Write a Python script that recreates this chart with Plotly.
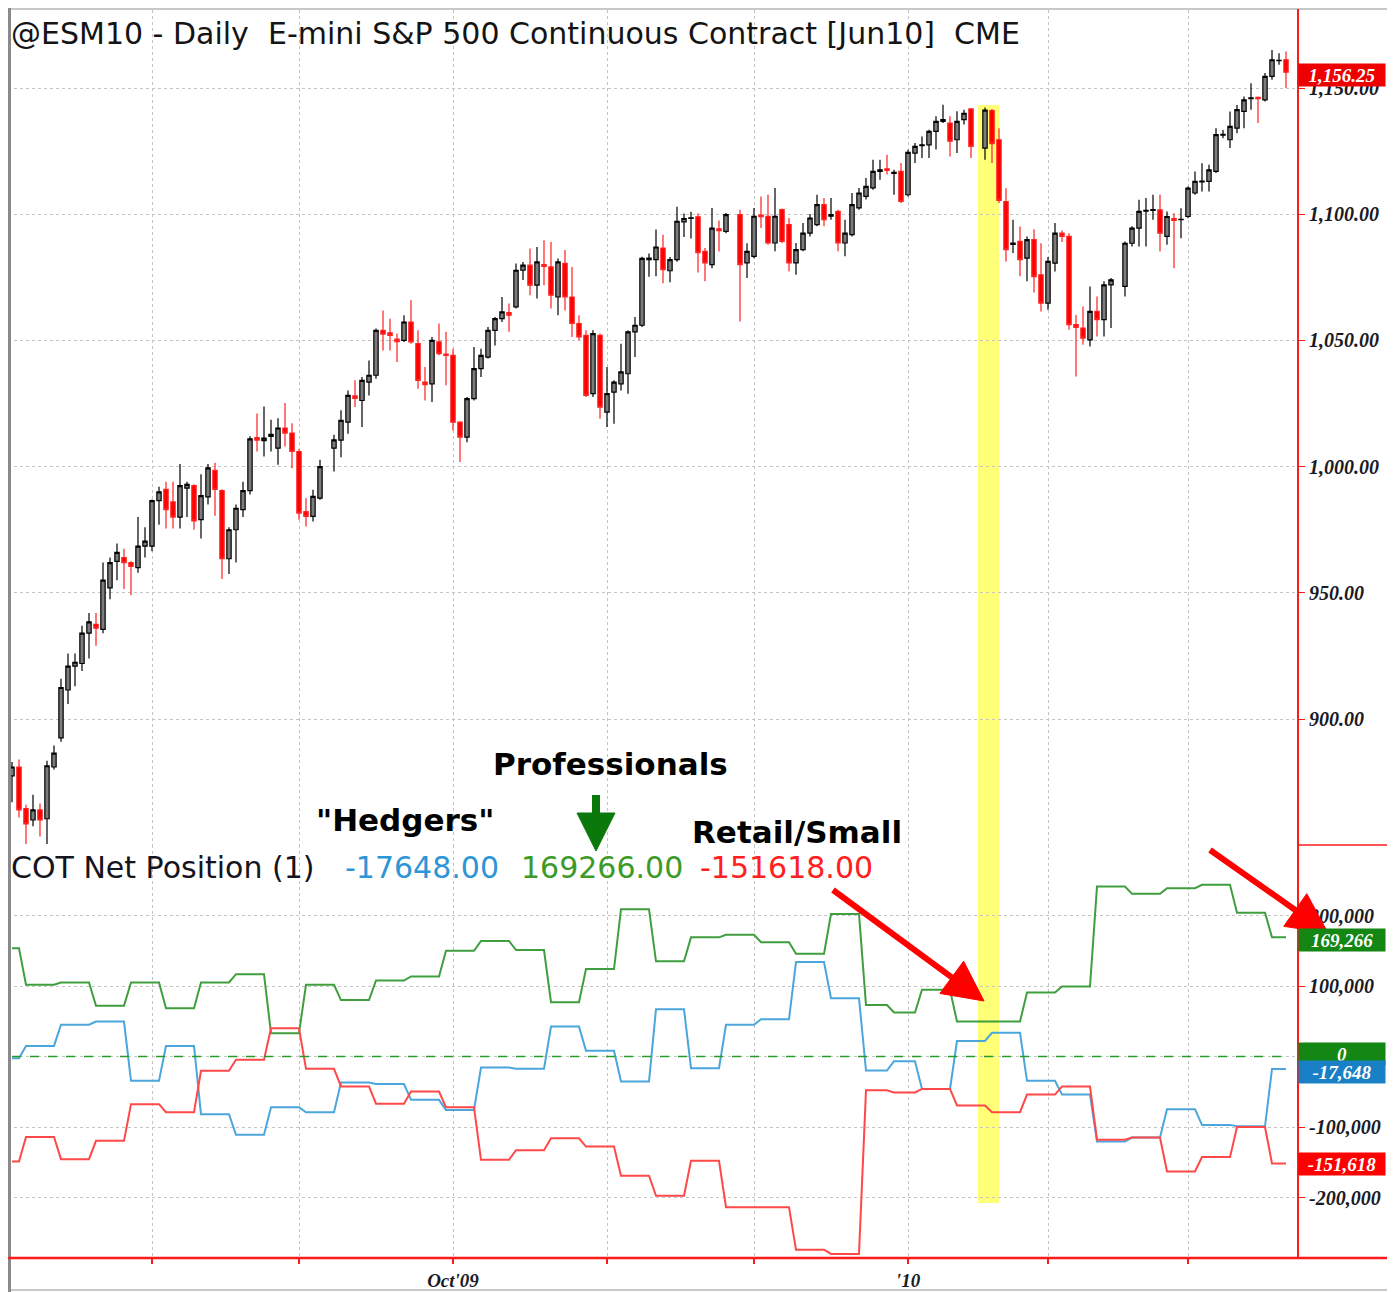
import plotly.graph_objects as go
from plotly.subplots import make_subplots
import pandas as pd

# ---------------- data ----------------
closed_days = ["2009-12-25", "2010-01-01"]          # exchange fully closed (no slot)
no_bar_days = ["2009-09-07", "2009-11-26", "2010-01-18", "2010-02-15"]  # slot, but no candle
dates = [d.strftime("%Y-%m-%d") for d in pd.bdate_range("2009-07-06", "2010-03-19")
         if d.strftime("%Y-%m-%d") not in closed_days]

N = None
opens = [
    877.5, 881, 864.5, 860, 864, 860.5, 881, 892.5, 911.5, 921, 922, 934, 937.5, 935.5, 952, 962.5, 964, 962, 960, 968.5,
    968.5, 986.5, 991, 986, 980, 991.5, 992.5, 979, 988, 998.5, 990.5, 963.5, 975, 983, 990.5, 1011.5, 1010.3, 1012, 1007.3, 1015.3, 1013.3,
    1006, 982.2, 980.3, 987.5, N, 1007.3, 1010.5, 1017.6, 1028, 1026.2, 1033.5, 1036.2, 1054, 1053, 1050.5, 1050, 1057.3, 1048.7, 1033.5, 1032.8, 1049.4, 1044.6,
    1044.1, 1017.6, 1011.7, 1026.9, 1038.8, 1043.4, 1054, 1058.6, 1061, 1063.3, 1077.8, 1079.8, 1071.9, 1080, 1079.1, 1067.2, 1080.5, 1067.2, 1056.7, 1052, 1028.9, 1052,
    1021.6, 1029.5, 1032.8, 1036.8, 1053.4, 1056, 1082, 1082, 1086.6, 1077.6, 1082, 1097, 1098.3, 1099, 1085.3, 1080, 1094.2, 1093.2, N, 1099.8, 1080.7,
    1083.3, 1099.6, 1099.2, 1088.6, 1101.8, 1095.9, 1080.7, 1086, 1092.5, 1095.9, 1103.8, 1099.2, 1101.1, 1088.6, 1091.9, 1102.5, 1107.1, 1110.4, 1117, 1118, 1116.2, 1117,
    1107.7, 1124.2, 1127.2, 1127.5, 1132.8, 1136.8, 1136.1, 1129.5, 1137.5, 1141.7, N, 1126.2, 1141, 1129.5, 1105, 1088, 1089.2, 1082.6, 1089.9, 1076,
    1064.8, 1080.6, 1092.5, 1091.2, 1056.3, 1054.9, 1050.2, 1061.5, 1058.2, 1072, N, 1071.4, 1088.5, 1094.5, 1101.2, 1101.5, 1101.7, 1091.2, 1098.3, 1097.8,
    1099.1, 1108.4, 1112.8, 1113, 1117, 1131.3, 1129.5, 1134.1, 1140.7, 1145.8, 1146.3, 1145.3, 1154.6, 1160.8, 1161.2,
]
highs = [
    883, 884, 866, 870, 866.5, 883.5, 889.5, 916, 926, 926, 937, 942, 942, 962, 964, 969.5, 967.5, 962.5, 980, 976,
    987, 992, 994, 994, 1001, 994, 993, 997, 1001, 1001.5, 991, 976, 985, 994, 1012, 1021, 1023.8, 1018.6, 1019.2, 1025.2, 1017.2,
    1007, 987.5, 990.8, 1002.7, N, 1012.6, 1022.3, 1030.2, 1034.2, 1035.5, 1042, 1054.7, 1061.9, 1058.6, 1052.7, 1060, 1066, 1054, 1039.5, 1051.4, 1056.7, 1053.4,
    1046.7, 1018, 1027.6, 1047.4, 1046.7, 1055.3, 1059.3, 1067.2, 1064.6, 1080.5, 1081.1, 1086.4, 1087, 1089.7, 1089, 1082.5, 1085.8, 1079.1, 1060, 1054, 1054, 1052.7,
    1039.5, 1034.2, 1048.7, 1054, 1059.3, 1083.1, 1084.4, 1093.9, 1091.9, 1083, 1103, 1100.3, 1101, 1100.4, 1086.6, 1102.5, 1097.5, 1100.5, N, 1101.8, 1088.5,
    1102.5, 1107, 1107.7, 1110.4, 1102.3, 1098.5, 1088.6, 1096.5, 1100.1, 1107.7, 1106.4, 1106.4, 1101.8, 1097.8, 1108.4, 1110.4, 1114.3, 1121.6, 1121.6, 1123.6, 1117.6, 1120.3,
    1125.5, 1128.2, 1130.8, 1133.5, 1138.8, 1143.4, 1138.8, 1140.8, 1141.4, 1142, N, 1142.3, 1141.7, 1134.1, 1110.3, 1097.8, 1095.1, 1091.2, 1094, 1088.5,
    1083, 1096.5, 1093.5, 1092.5, 1060.1, 1063.4, 1071.4, 1067.4, 1073.4, 1074.7, N, 1089.2, 1095.2, 1105.7, 1106.4, 1107.7, 1107.7, 1101.1, 1100.4, 1102.4,
    1111, 1116.9, 1120.2, 1119.6, 1134.1, 1133.4, 1140.7, 1143.3, 1146.6, 1151.9, 1146.6, 1155.9, 1165.1, 1163.8, 1164.5,
]
lows = [
    867, 861, 850.5, 857.5, 853.5, 850.5, 880, 891, 906, 913, 919, 924, 929, 934, 947.5, 955, 951.5, 949, 958, 964,
    966.5, 977, 975.5, 975.5, 975.5, 980, 975, 971.5, 985, 980.5, 955.5, 957.5, 962, 980, 989, 1006, 1004, 1006, 1000.7, 1008, 999.4,
    979, 976.3, 978.3, 986.9, N, 998.1, 1003.7, 1013, 1023.6, 1015.7, 1028.2, 1034.8, 1046, 1046, 1041.4, 1049.4, 1048.7, 1030.9, 1026.2, 1025.6, 1044.1, 1032.2,
    1014.3, 1001.8, 1009.7, 1026.2, 1035.5, 1042.8, 1048, 1057.3, 1053.4, 1062.6, 1073.9, 1067.9, 1066.6, 1071.9, 1062.6, 1060, 1061.9, 1051.4, 1050, 1027.6, 1027.6, 1019,
    1015.7, 1017, 1030.2, 1028.9, 1043.4, 1055.3, 1075.2, 1075.4, 1072.6, 1073, 1081.2, 1091, 1090.4, 1076.9, 1073.4, 1078.6, 1085.2, 1092.5, N, 1057.5, 1074.7,
    1082.6, 1094.5, 1087.9, 1085.3, 1088.5, 1077.4, 1076, 1085.3, 1091.2, 1095.2, 1095.2, 1097.8, 1085.3, 1083.3, 1091.2, 1101.8, 1105.8, 1109.7, 1113.7, 1115.7, 1107.7, 1104.4,
    1107, 1120.3, 1122.3, 1122.3, 1125.6, 1136.1, 1122.9, 1124.2, 1135.5, 1122.3, N, 1121.6, 1120.3, 1104.4, 1081.3, 1084.6, 1075.4, 1073.4, 1069, 1061.5,
    1062.1, 1077.3, 1089, 1054.2, 1035.7, 1048.3, 1047.6, 1051.6, 1051.6, 1054.9, N, 1067.4, 1087.2, 1087.2, 1087.2, 1097.8, 1085.2, 1087.9, 1078.6, 1090.5,
    1098.4, 1107.7, 1109, 1109, 1116.3, 1130.1, 1126.2, 1132.1, 1134.1, 1141.4, 1136.1, 1144.7, 1153.3, 1159.2, 1150,
]
closes = [
    881, 864, 858.5, 864, 860, 881.5, 886.5, 912.5, 921, 922.5, 934, 938.5, 936, 955, 962, 966, 962, 960.5, 968.5, 970.5,
    986.5, 990, 983, 980, 992.5, 993, 978.5, 988.5, 999.5, 991, 963.5, 975, 983.5, 990.5, 1011, 1010.5, 1011.3, 1012.8, 1015.3, 1013.3, 1006,
    981.6, 980.3, 988.2, 1000, N, 1010.6, 1018.3, 1028.2, 1027, 1034.2, 1036.2, 1054, 1052.5, 1052, 1049.5, 1057.3, 1049.4, 1034.2, 1032.5, 1050, 1044.8, 1044.1,
    1017.6, 1011.7, 1026.9, 1038.8, 1044.1, 1054, 1058.6, 1061.3, 1060, 1077.8, 1079.8, 1071.9, 1081.1, 1079.3, 1067.9, 1081.1, 1067.2, 1056.7, 1051.4, 1028.2, 1052.7, 1023.6,
    1028.9, 1033.5, 1037.5, 1053.4, 1056, 1082.5, 1082.6, 1087, 1078, 1082, 1097.2, 1098.3, 1098.6, 1084.8, 1080.7, 1094.5, 1093.5, 1099.8, N, 1080, 1085.3,
    1099.2, 1099, 1088.6, 1099.2, 1089.2, 1080.7, 1086, 1092.5, 1098.5, 1103.8, 1097.8, 1099.8, 1088.6, 1092.5, 1103.8, 1108.4, 1111, 1117, 1117.6, 1117.4, 1116.6, 1105.1,
    1124.5, 1126.9, 1127.5, 1132.8, 1136.8, 1137.5, 1128.9, 1136.8, 1140, 1126.9, N, 1141.2, 1128, 1105.5, 1086, 1088.6, 1082, 1089.9, 1075.3, 1064.8,
    1081.3, 1092.5, 1091.2, 1056.2, 1055.2, 1050.9, 1061.5, 1058.2, 1072, 1074, N, 1088.5, 1094.5, 1101.1, 1101.5, 1101.8, 1092.5, 1099.1, 1097.5, 1098,
    1110.3, 1113, 1113.1, 1117.6, 1131.5, 1131.6, 1134.8, 1141.4, 1145.3, 1146.1, 1145.8, 1154.6, 1161.2, 1161, 1156.25,
]

# weekly Commitments of Traders net positions (as-of Tuesday)
cot_weeks = ["2009-06-30", "2009-07-07", "2009-07-14", "2009-07-21", "2009-07-28", "2009-08-04", "2009-08-11",
             "2009-08-18", "2009-08-25", "2009-09-01", "2009-09-08", "2009-09-15", "2009-09-22", "2009-09-29",
             "2009-10-06", "2009-10-13", "2009-10-20", "2009-10-27", "2009-11-03", "2009-11-10", "2009-11-17",
             "2009-11-24", "2009-12-01", "2009-12-08", "2009-12-15", "2009-12-22", "2009-12-29", "2010-01-05",
             "2010-01-12", "2010-01-19", "2010-01-26", "2010-02-02", "2010-02-09", "2010-02-16", "2010-02-23",
             "2010-03-02", "2010-03-09", "2010-03-16"]
hedgers = [-2400, 15000, 45000, 49600, -34500, 15000, -81800, -111000, -72000, -79000, -37000, -39000, -61500,
           -75700, -15600, -17500, 42500, 8000, -35500, 67000, -16500, 45000, 53000, 134000, 82700, -20000, -6600,
           -46000, 22000, 33600, -34500, -54000, -120600, -115000, -74700, -97000, -99000, -17648]
professionals = [153700, 101700, 105000, 72000, 105000, 68600, 105000, 116800, 33000, 101700, 80000, 107800, 113500,
                 150000, 164000, 151000, 77000, 124000, 209000, 135000, 169000, 172600, 162000, 145600, 202000, 73000,
                 62400, 94600, 49600, 49600, 90800, 99300, 241000, 230700, 238800, 243500, 204000, 169266]
retail = [-149000, -114000, -145600, -119600, -67600, -79000, -20300, -4700, 40000, -17500, -42500, -67000, -49600,
          -72000, -146600, -133000, -116000, -127700, -169000, -197600, -148000, -213700, -213700, -274000, -280000,
          -48000, -51000, -46000, -69500, -79000, -54000, -42500, -118000, -115000, -163000, -142700, -100000, -151618]

price_ticks = [900, 950, 1000, 1050, 1100, 1150]
cot_ticks = [-200000, -100000, 0, 100000, 200000]
month_labels = {"2009-10": "Oct'09", "2010-01": "'10"}
highlight = ("2010-01-18", "2010-01-21")

assert len(dates) == len(opens) == len(highs) == len(lows) == len(closes)

# ---------------- geometry (page pixels; the page body has an 8px margin) ----------------
PAGE_W, PAGE_H, BODY = 1395, 1292, 8
W, H = PAGE_W - BODY, PAGE_H - BODY
L_PX, R_PX, T_PX, B_PX = 8, 1298, 10, 1258
SPLIT_PX = 845
def px(x): return (x - L_PX) / (R_PX - L_PX)
def py(y): return (B_PX - y) / (B_PX - T_PX)
split = py(SPLIT_PX)

# daily step series from weekly COT: value of last report dated before the bar
def daily(values):
    out = []
    for d in dates:
        v = None
        for wk, val in zip(cot_weeks, values):
            if wk < d:
                v = val
        out.append(v)
    return out

bar_idx = [i for i, d in enumerate(dates) if closes[i] is not None]
month_starts = [d for i, d in enumerate(dates) if i > 0 and d[:7] != dates[i - 1][:7]]

SERIF = "Liberation Serif"
SANS = "DejaVu Sans"
RED = "#ff1a1a"
GREEN_LINE = "#3f9f3f"
BLUE_LINE = "#4aa6dc"
RED_LINE = "#ff4848"

fig = make_subplots(rows=2, cols=1, shared_xaxes=True, vertical_spacing=0)

fig.add_trace(go.Candlestick(
    x=[dates[i] for i in bar_idx], open=[opens[i] for i in bar_idx], high=[highs[i] for i in bar_idx],
    low=[lows[i] for i in bar_idx], close=[closes[i] for i in bar_idx],
    increasing=dict(line=dict(color="#000000", width=1.2), fillcolor="#7c7c7c"),
    decreasing=dict(line=dict(color="#ff2020", width=1.2), fillcolor="#ff0000"),
    whiskerwidth=0, hoverinfo="skip", showlegend=False), row=1, col=1)

for vals, col in [(professionals, GREEN_LINE), (hedgers, BLUE_LINE), (retail, RED_LINE)]:
    fig.add_trace(go.Scatter(x=dates, y=daily(vals), mode="lines", line=dict(color=col, width=2),
                             hoverinfo="skip", showlegend=False), row=2, col=1)

xr = [-0.571, len(dates) - 1 + 1.714]
common_x = dict(type="category", categoryorder="array", categoryarray=dates, range=xr,
                tickvals=month_starts, showgrid=True, gridcolor="#c4c4c4", griddash="dot", gridwidth=1,
                zeroline=False, showline=False, rangeslider=dict(visible=False))
fig.update_xaxes(**common_x)
tickfont = dict(family=SERIF, size=20, color="#1a1a24", weight="bold", style="italic")
fig.update_layout(
    xaxis=dict(showticklabels=False, ticks=""),
    xaxis2=dict(ticktext=[month_labels.get(m[:7], "") for m in month_starts], ticks="outside",
                ticklen=5, tickwidth=1.5, tickcolor=RED,
                tickfont=dict(family=SERIF, size=19, color="#1a1a24", weight="bold", style="italic")),
    yaxis=dict(domain=[split, 1], side="right", range=[850.1, 1180.9], tickvals=price_ticks,
               ticktext=[f"{v:,.2f}" for v in price_ticks], ticks="outside", ticklen=6, tickcolor=RED,
               showgrid=True, gridcolor="#c4c4c4", griddash="dot", zeroline=False, showline=False,
               tickfont=tickfont),
    # the zero level is labelled by its own marker box, so its axis text is left blank
    yaxis2=dict(domain=[0, split], side="right", range=[-285800, 300000], tickvals=cot_ticks,
                ticktext=[f"{v:,}" if v != 0 else "" for v in cot_ticks], ticks="outside", ticklen=6,
                tickcolor=RED, showgrid=True, gridcolor="#c4c4c4", griddash="dot", zeroline=False,
                showline=False, tickfont=tickfont),
    width=W, height=H,
    margin=dict(l=L_PX - BODY, r=PAGE_W - R_PX, t=T_PX - BODY, b=PAGE_H - B_PX, pad=0),
    paper_bgcolor="white", plot_bgcolor="white", hovermode=False, boxgap=0.12,
)

shapes = []
# highlight band
shapes.append(dict(type="rect", xref="x", yref="paper", x0=dates.index(highlight[0]), x1=dates.index(highlight[1]),
                   y0=py(1203), y1=py(105), fillcolor="#ffff78", line=dict(width=0), layer="between"))
# zero line of COT panel
shapes.append(dict(type="line", xref="x2", yref="y2", x0=0, x1=len(dates) - 1, y0=0, y1=0,
                   line=dict(color="#2a9a2a", width=1.5, dash="dash")))
# frame
def pline(x0, y0, x1, y1, color, width):
    return dict(type="line", xref="paper", yref="paper", x0=px(x0), y0=py(y0), x1=px(x1), y1=py(y1),
                line=dict(color=color, width=width), layer="above")
shapes += [
    pline(8, 9, 1394, 9, "#c8c8c8", 2),
    pline(8, 1290, 1394, 1290, "#c8c8c8", 2),
    pline(1391, 8, 1391, 1292, "#a8a8a8", 4),
    pline(9.5, 8, 9.5, 1292, "#8a8a8a", 3),
    pline(R_PX, 9, R_PX, B_PX, RED, 2),
    pline(L_PX, B_PX, 1390, B_PX, RED, 2.5),
    pline(R_PX, SPLIT_PX, 1390, SPLIT_PX, RED, 1.5),
]

def arrow(x0, y0, x1, y1, color, shaft, head_len, head_half):
    dx, dy = x1 - x0, y1 - y0
    d = (dx * dx + dy * dy) ** 0.5
    ux, uy = dx / d, dy / d
    nx, ny = -uy, ux
    bx, by = x1 - ux * head_len, y1 - uy * head_len
    out = [pline(x0, y0, bx + ux * 3, by + uy * 3, color, shaft)]
    pts = [(x1, y1), (bx + nx * head_half, by + ny * head_half), (bx - nx * head_half, by - ny * head_half)]
    path = "M " + " L ".join(f"{px(a):.5f},{py(b):.5f}" for a, b in pts) + " Z"
    out.append(dict(type="path", xref="paper", yref="paper", path=path, fillcolor=color,
                    line=dict(color=color, width=1), layer="above"))
    return out

shapes += arrow(596, 795, 596, 851, "#0a780a", 8, 38, 19)
shapes += arrow(833, 890, 984, 1001, "#ff0000", 6, 40, 20)
shapes += arrow(1210, 850, 1328, 933, "#ff0000", 6, 40, 20)
fig.update_layout(shapes=shapes)

ann = []
def text(x, y, s, size, color="#111111", anchor="left", bold=False, family=SANS):
    ann.append(dict(xref="paper", yref="paper", x=px(x), y=py(y), xanchor=anchor, yanchor="middle",
                    text=f"<b>{s}</b>" if bold else s, showarrow=False,
                    font=dict(family=family, size=size, color=color)))

nb = "\u00a0"
text(9, 33, f"@ESM10 - Daily{nb}{nb}E-mini S&P 500 Continuous Contract [Jun10]{nb}{nb}CME", 30, "#141414")
text(9, 867, "COT Net Position (1)", 30, "#141420")
text(343, 867, f"{hedgers[-1]:.2f}", 30, "#2e95d6")
text(519, 867, f"{professionals[-1]:.2f}", 30, "#3c9a28")
text(698, 867, f"{retail[-1]:.2f}", 30, "#ff2020")
text(610, 764, "Professionals", 31, "#000000", "center", True)
text(405, 820, "\"Hedgers\"", 31, "#000000", "center", True)
text(797, 832, "Retail/Small", 31, "#000000", "center", True)

def box(yref, yval, s, bg, yshift=0):
    ann.append(dict(xref="paper", yref=yref, x=1, y=yval, xanchor="left", yanchor="middle", xshift=0,
                    yshift=yshift, text=s, showarrow=False, bgcolor=bg, width=86, height=22, borderpad=0,
                    align="center", font=dict(family=SERIF, size=19, color="white", weight="bold", style="italic")))

box("y", closes[-1], f"{closes[-1]:,.2f}", "#ee0000", -3)
box("y2", professionals[-1], f"{professionals[-1]:,}", "#138613", -3)
box("y2", 0, "0", "#138613", 3)
box("y2", hedgers[-1], f"{hedgers[-1]:,}", "#1a80c6", -3)
box("y2", retail[-1], f"{retail[-1]:,}", "#ff0000", -1)
fig.update_layout(annotations=ann)

fig.write_html("out.html")
